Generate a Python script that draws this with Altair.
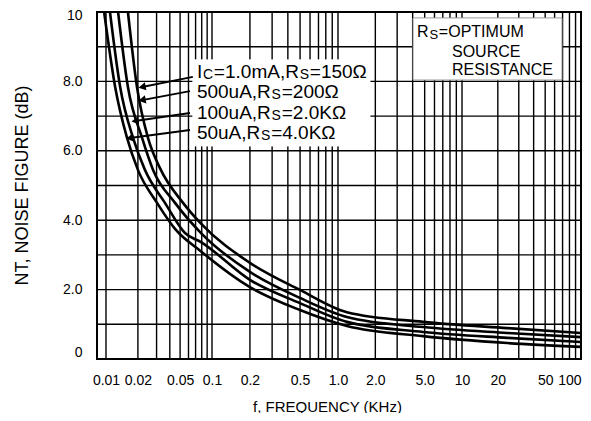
import altair as alt
import pandas as pd

# ---------------- data ----------------
freq_1ma = [0.0161, 0.0196, 0.0249, 0.0323, 0.0533, 0.0788, 0.200, 0.499, 1.18, 4.85, 24.0, 100.0]
nf_1ma = [10.0, 7.84, 6.37, 5.50, 4.50, 3.90, 2.77, 1.99, 1.35, 1.07, 0.89, 0.75]
freq_500ua = [0.0130, 0.0161, 0.0219, 0.0278, 0.0448, 0.0788, 0.200, 0.499, 1.18, 4.85, 24.0, 100.0]
nf_500ua = [10.0, 7.84, 6.37, 5.45, 4.50, 3.63, 2.51, 1.76, 1.21, 0.92, 0.75, 0.63]
freq_100ua = [0.0109, 0.0136, 0.0180, 0.0233, 0.0360, 0.0556, 0.0788, 0.200, 0.499, 1.18, 4.85, 24.0, 100.0]
nf_100ua = [10.0, 7.84, 6.37, 5.45, 4.50, 3.63, 3.37, 2.28, 1.61, 1.07, 0.78, 0.61, 0.49]
freq_50ua = [0.0096, 0.0122, 0.0158, 0.0200, 0.0303, 0.0448, 0.0788, 0.200, 0.499, 1.18, 4.85, 24.0, 100.0]
nf_50ua = [10.0, 7.84, 6.37, 5.45, 4.50, 3.75, 3.10, 2.07, 1.41, 0.95, 0.66, 0.46, 0.35]

series_names = ["1.0mA", "500uA", "100uA", "50uA"]

x_tick_values = [0.01, 0.02, 0.05, 0.1, 0.2, 0.5, 1, 2, 5, 10, 20, 50, 100]
y_tick_values = [0, 2, 4, 6, 8, 10]
x_grid_values = [m * 10.0 ** e for e in (-2, -1, 0, 1) for m in range(1, 10)] + [100.0]
y_grid_values = list(range(0, 11))

# annotation lines: pieces of (text, is_subscript)
label_lines = [
    [("I", 0), ("C", 1), ("=1.0mA,R", 0), ("S", 1), ("=150Ω", 0)],
    [("500uA,R", 0), ("S", 1), ("=200Ω", 0)],
    [("100uA,R", 0), ("S", 1), ("=2.0KΩ", 0)],
    [("50uA,R", 0), ("S", 1), ("=4.0KΩ", 0)],
]
label_x = 0.072
label_y = [8.27, 7.69, 7.09, 6.51]

box_lines = [
    [("R", 0), ("S", 1), ("=OPTIMUM", 0)],
    [("SOURCE", 0)],
    [("RESISTANCE", 0)],
]
box_x = [4.34, 8.30, 8.30]
box_y = [9.42, 8.85, 8.33]

# arrows: start (f, dB) -> tip (f, dB)
arrow_x1 = [0.0660, 0.0620, 0.0620, 0.0620]
arrow_y1 = [8.13, 7.72, 7.09, 6.60]
arrow_x2 = [0.0219, 0.0219, 0.0188, 0.0168]
arrow_y2 = [7.84, 7.46, 6.86, 6.37]
arrow_angle = [349, 349.5, 352, 352.5]

# white backgrounds
bg_x1 = [0.066, 4.03]
bg_x2 = [1.81, 69.2]
bg_y1 = [6.14, 8.04]
bg_y2 = [8.62, 9.83]
bg_stroke = ["white", "#9a9a9a"]

# ---------------- tables ----------------
rows = []
for name, fs, vs in zip(series_names,
                        [freq_1ma, freq_500ua, freq_100ua, freq_50ua],
                        [nf_1ma, nf_500ua, nf_100ua, nf_50ua]):
    for f, v in zip(fs, vs):
        rows.append({"series": name, "f": f, "nf": v})
curves_df = pd.DataFrame(rows)

FONT = "Liberation Sans"

x_scale = alt.Scale(type="log", domain=[0.00823, 0.01, 0.1, 1, 10, 100],
                    range=[0, 9, 115, 241, 365, 484], nice=False)
y_scale = alt.Scale(domain=[0, 10], nice=False, zero=True)

x_axis = alt.Axis(
    values=x_tick_values,
    labelExpr="datum.value >= 10 ? format(datum.value, 'd') : (datum.value >= 1 ? format(datum.value, '.1f') : format(datum.value, '~r'))",
    grid=False, ticks=False, domain=False,
    labelFont=FONT, labelFontSize=14, labelColor="black", labelPadding=14,
    labelFlush=False, labelOverlap=False,
    labelAlign={"condition": {"test": "datum.value >= 100", "value": "right"}, "value": "center"},
    title="f, FREQUENCY (KHz)", titleFont=FONT, titleFontSize=15,
    titleFontWeight="normal", titleColor="black",
    titleX=230, titleY=47, titleBaseline="middle", titleAlign="center",
)
y_axis = alt.Axis(
    values=y_tick_values,
    labelExpr="(datum.value == 0 || datum.value == 10) ? format(datum.value, 'd') : format(datum.value, '.1f')",
    grid=False, ticks=False, domain=False,
    labelFont=FONT, labelFontSize=14, labelColor="black", labelPadding=15,
    labelOffset={"condition": {"test": "datum.value >= 10", "value": 3}, "value": 0},
    labelBaseline={"condition": {"test": "datum.value <= 0", "value": "bottom"}, "value": "middle"},
    title="NT, NOISE FIGURE (dB)", titleFont=FONT, titleFontSize=18,
    titleFontWeight="normal", titleColor="black",
    titleX=-75, titleY=173, titleAngle=270, titleAlign="center", titleBaseline="middle",
)


def X(field):
    return alt.X(field, scale=x_scale, axis=x_axis)


def Y(field):
    return alt.Y(field, scale=y_scale, axis=y_axis)


vgrid = alt.Chart(pd.DataFrame({"f": x_grid_values})).mark_rule(
    color="black", strokeWidth=1.4
).encode(x=X("f:Q"))

hgrid = alt.Chart(pd.DataFrame({"nf": y_grid_values})).mark_rule(
    color="black", strokeWidth=1.4
).encode(y=Y("nf:Q"))

bg = alt.Chart(pd.DataFrame({"x1": bg_x1, "x2": bg_x2, "y1": bg_y1, "y2": bg_y2,
                             "st": bg_stroke})).mark_rect(
    fill="white", strokeWidth=1
).encode(
    x=X("x1:Q"), x2="x2:Q",
    y=Y("y1:Q"), y2="y2:Q",
    stroke=alt.Stroke("st:N", scale=None),
)

curves = alt.Chart(curves_df).mark_line(
    color="black", strokeWidth=2.6, interpolate="monotone"
).encode(
    x=X("f:Q"),
    y=Y("nf:Q"),
    detail="series:N",
)

arrow_df = pd.DataFrame({"x1": arrow_x1, "y1": arrow_y1, "x2": arrow_x2,
                         "y2": arrow_y2, "ang": arrow_angle})
arrow_lines = alt.Chart(arrow_df).mark_rule(color="black", strokeWidth=2).encode(
    x=X("x1:Q"), x2="x2:Q",
    y=Y("y1:Q"), y2="y2:Q",
)
arrow_heads = alt.Chart(arrow_df).mark_point(
    shape="triangle-left", filled=True, color="black", size=70, opacity=1
).encode(
    x=X("x2:Q"),
    y=Y("y2:Q"),
    angle=alt.Angle("ang:Q", scale=None),
)

# character widths (em/1000) for Arial-metric font
W = {"0": 556, "1": 556, "2": 556, "3": 556, "4": 556, "5": 556, ".": 278, ",": 278,
     "=": 584, "m": 833, "A": 667, "R": 722, "S": 667, "C": 722, "I": 278, "u": 556,
     "K": 667, "Ω": 768, "O": 778, "P": 667, "T": 611, "M": 833, "U": 722, "N": 722,
     "E": 667}


def text_width(s, size):
    return sum(W.get(c, 600) for c in s) * size / 1000.0


def piece_layers(lines, xs, ys, main_size, sub_size, sub_dy, gap):
    layers = []
    for line, x, y in zip(lines, xs, ys):
        offset = 0.0
        for txt, sub in line:
            size = sub_size if sub else main_size
            layers.append(
                alt.Chart(pd.DataFrame({"x": [x], "y": [y], "t": [txt]})).mark_text(
                    align="left", baseline="middle", font=FONT, fontSize=size,
                    color="black", dx=offset, dy=sub_dy if sub else 0,
                ).encode(
                    x=X("x:Q"),
                    y=Y("y:Q"),
                    text="t:N",
                )
            )
            offset += text_width(txt, size) + gap
    return layers


label_layers = piece_layers(label_lines, [label_x] * 4, label_y, 19, 14, 3, 0.8)
box_layers = piece_layers(box_lines, box_x, box_y, 16, 13, 3, 0.8)

chart = alt.layer(
    vgrid, hgrid, bg, curves, arrow_lines, arrow_heads, *label_layers, *box_layers
).properties(
    width=484, height=347,
    autosize=alt.AutoSizeParams(type="none"),
    padding={"left": 89, "top": 4, "right": 2, "bottom": 54},
    background="white",
).configure_view(stroke="black", strokeWidth=2)

chart.save("out.html", embed_options={"renderer": "svg", "actions": False})
